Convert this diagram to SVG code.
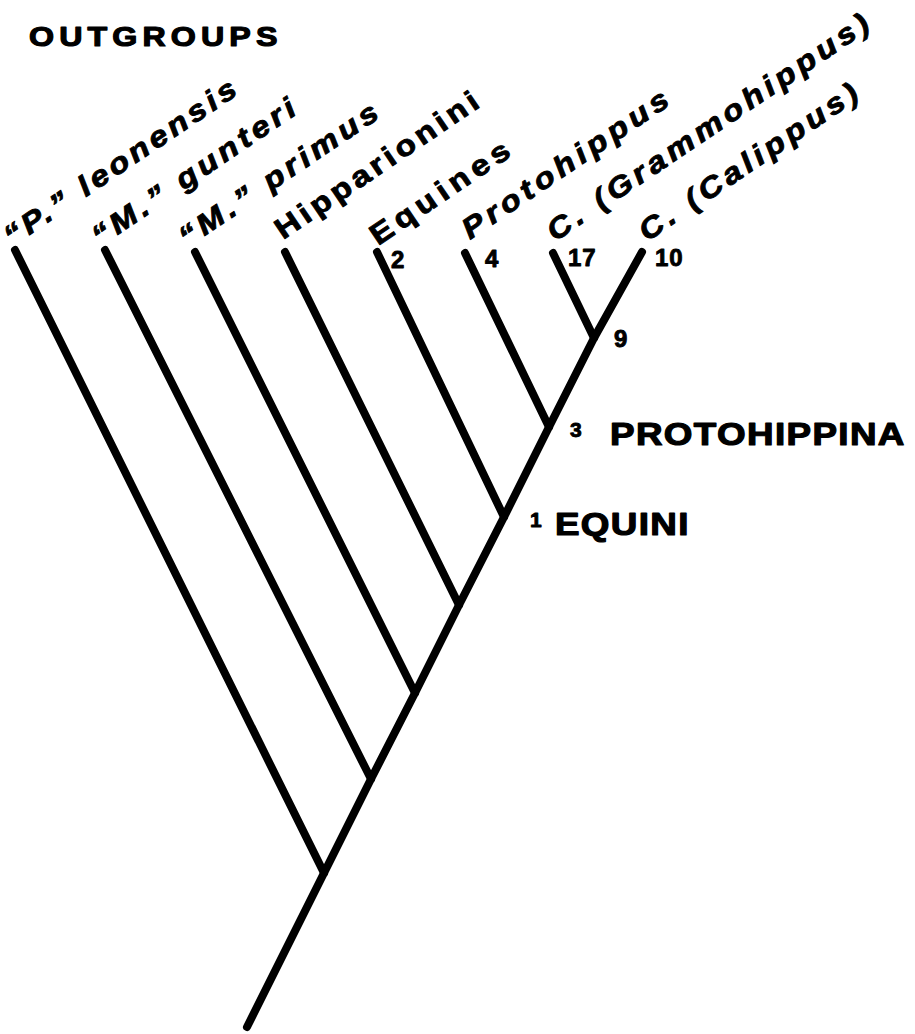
<svg xmlns="http://www.w3.org/2000/svg" width="915" height="1034" viewBox="0 0 915 1034">
<style>
.t{font-family:"Liberation Sans",Arial,sans-serif;font-weight:bold;fill:#000;stroke:#000;stroke-width:0.9;stroke-linejoin:round}
.lab{font-size:29px}
.it{font-style:italic}
.num{font-size:24px}
.sup{font-size:21px}
.cap{font-size:32px;stroke-width:1.2}
.br{fill:none;stroke:#000;stroke-width:8;stroke-linecap:round;stroke-linejoin:round}
</style>
<rect width="915" height="1034" fill="#fff"/>
<g id="connectors">
<polyline class="br" points="247,1027 324,873 371,779 415,693 459,605 504,517 549,427 594,338 642,252"/>
<line class="br" x1="15" y1="250" x2="324" y2="873"/>
<line class="br" x1="105" y1="250" x2="371" y2="779"/>
<line class="br" x1="195" y1="252" x2="415" y2="693"/>
<line class="br" x1="285" y1="252" x2="459" y2="605"/>
<line class="br" x1="377" y1="252" x2="504" y2="517"/>
<line class="br" x1="465" y1="253" x2="549" y2="427"/>
<line class="br" x1="553" y1="253" x2="594" y2="338"/>
</g>
<g id="outgroups">
<text class="t" transform="translate(29,46) scale(1.15,1)" font-size="28" style="stroke-width:1.2" textLength="216" lengthAdjust="spacing">OUTGROUPS</text>
</g>
<g id="p-leonensis">
<text class="t lab it" transform="translate(12,247) rotate(-34) scale(1.15,1)" textLength="238" lengthAdjust="spacing">“P.” leonensis</text>
</g>
<g id="m-gunteri">
<text class="t lab it" transform="translate(100,247) rotate(-34) scale(1.15,1)" textLength="208" lengthAdjust="spacing">“M.” gunteri</text>
</g>
<g id="m-primus">
<text class="t lab it" transform="translate(187,248) rotate(-34) scale(1.15,1)" textLength="203" lengthAdjust="spacing">“M.” primus</text>
</g>
<g id="hipparionini">
<text class="t lab" transform="translate(283,240) rotate(-34) scale(1.15,1)" textLength="208" lengthAdjust="spacing">Hipparionini</text>
</g>
<g id="equines">
<text class="t lab" transform="translate(378,246) rotate(-34) scale(1.15,1)" textLength="141" lengthAdjust="spacing">Equines</text>
<text class="t num" x="391" y="268">2</text>
</g>
<g id="protohippus">
<text class="t lab it" transform="translate(470,240) rotate(-34) scale(1.15,1)" textLength="211" lengthAdjust="spacing">Protohippus</text>
<text class="t num" x="485" y="267">4</text>
</g>
<g id="grammohippus">
<text class="t lab it" transform="translate(555,242) rotate(-34) scale(1.15,1)" textLength="332" lengthAdjust="spacing">C. (Grammohippus)</text>
<text class="t num" x="568" y="266" letter-spacing="1">17</text>
</g>
<g id="calippus">
<text class="t lab it" transform="translate(647,242) rotate(-34) scale(1.15,1)" textLength="224" lengthAdjust="spacing">C. (Calippus)</text>
<text class="t num" x="655" y="266" letter-spacing="1">10</text>
</g>
<g id="node9">
<text class="t num" x="614" y="347">9</text>
</g>
<g id="protohippina">
<text class="t sup" x="570" y="437">3</text>
<text class="t cap" transform="translate(610,445) scale(1.15,1)" textLength="256" lengthAdjust="spacing">PROTOHIPPINA</text>
</g>
<g id="equini">
<text class="t sup" x="530" y="527">1</text>
<text class="t cap" transform="translate(555,535) scale(1.15,1)" textLength="116" lengthAdjust="spacing">EQUINI</text>
</g>
</svg>
